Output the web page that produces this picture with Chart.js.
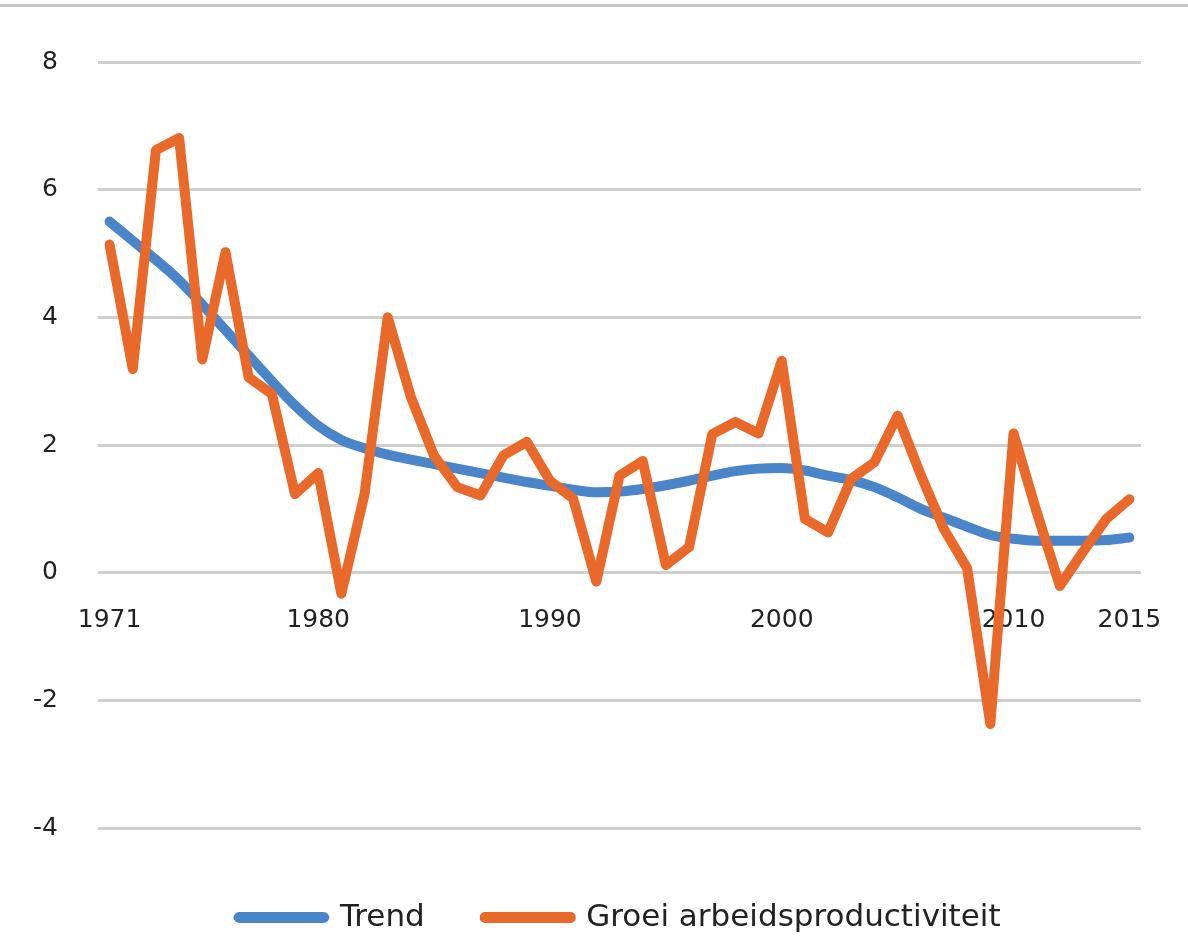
<!DOCTYPE html>
<html>
<head>
<meta charset="utf-8">
<script src="https://cdn.jsdelivr.net/npm/chart.js@4/dist/chart.umd.min.js"></script>
<style>
  html, body { margin: 0; padding: 0; background: #fff; }
  #topline { position: absolute; left: 0; top: 4px; width: 1188px; height: 3px; background: #c4c4c4; }
  #wrap { position: relative; width: 1188px; height: 943px; }
</style>
</head>
<body>
<div id="wrap">
  <div id="topline"></div>
  <canvas id="chart"></canvas>
</div>
<script>
var years = [1971, 1972, 1973, 1974, 1975, 1976, 1977, 1978, 1979, 1980,
  1981, 1982, 1983, 1984, 1985, 1986, 1987, 1988, 1989, 1990,
  1991, 1992, 1993, 1994, 1995, 1996, 1997, 1998, 1999, 2000,
  2001, 2002, 2003, 2004, 2005, 2006, 2007, 2008, 2009, 2010,
  2011, 2012, 2013, 2014, 2015];

var shownYears = [1971, 1980, 1990, 2000, 2010, 2015];

var trend = [5.5, 5.2, 4.9, 4.58, 4.2, 3.8, 3.4, 3.0, 2.62, 2.3,
  2.08, 1.95, 1.85, 1.77, 1.7, 1.63, 1.56, 1.49, 1.42, 1.36,
  1.3, 1.26, 1.27, 1.31, 1.37, 1.44, 1.52, 1.59, 1.63, 1.64,
  1.6, 1.52, 1.45, 1.34, 1.18, 1.0, 0.86, 0.72, 0.59, 0.53,
  0.5, 0.5, 0.5, 0.51, 0.55];

var groei = [5.14, 3.19, 6.62, 6.81, 3.34, 5.02, 3.06, 2.8, 1.23, 1.56,
  -0.33, 1.23, 4.0, 2.75, 1.83, 1.34, 1.21, 1.84, 2.05, 1.44,
  1.16, -0.14, 1.52, 1.75, 0.12, 0.4, 2.17, 2.36, 2.18, 3.32,
  0.84, 0.63, 1.47, 1.73, 2.46, 1.53, 0.68, 0.07, -2.37, 2.18,
  0.95, -0.21, 0.33, 0.84, 1.15];

var blue = '#4a85c9';
var orange = '#e8692a';

new Chart(document.getElementById('chart'), {
  type: 'line',
  data: {
    labels: years,
    datasets: [{
      label: 'Trend',
      data: trend,
      borderColor: blue,
      backgroundColor: blue,
      borderWidth: 10,
      pointRadius: 0,
      tension: 0.4,
      cubicInterpolationMode: 'monotone',
      borderCapStyle: 'round',
      order: 1
    }, {
      label: 'Groei arbeidsproductiviteit',
      data: groei,
      borderColor: orange,
      backgroundColor: orange,
      borderWidth: 10,
      pointRadius: 0,
      tension: 0,
      borderJoinStyle: 'round',
      borderCapStyle: 'round',
      order: 0
    }]
  },
  options: {
    responsive: true,
    maintainAspectRatio: false,
    animation: false,
    layout: { padding: { top: 62, right: 47, left: 0, bottom: 0 } },
    plugins: {
      tooltip: { enabled: false },
      legend: {
        position: 'bottom',
        fullSize: false,
        labels: {
          sort: function (a, b) { return a.datasetIndex - b.datasetIndex; },
          boxWidth: 86,
          boxHeight: 1,
          useBorderRadius: true,
          borderRadius: 1,
          padding: 60,
          color: '#222',
          font: { family: 'DejaVu Sans', size: 31 }
        }
      }
    },
    scales: {
      x: {
        position: { y: 0 },
        offset: true,
        // tick marks are hidden, their length only pushes the labels down
        grid: { display: false, drawTicks: true, tickLength: 33 },
        border: { display: false },
        ticks: {
          autoSkip: false,
          maxRotation: 0,
          padding: 0,
          color: '#222',
          font: { family: 'DejaVu Sans', size: 25 },
          callback: function (val, i) {
            var y = years[i];
            return shownYears.indexOf(y) >= 0 ? String(y) : '';
          }
        }
      },
      // empty axis, only keeps room between plot and legend
      spacer: {
        type: 'category',
        labels: [''],
        position: 'bottom',
        grid: { display: false },
        border: { display: false },
        ticks: { display: false },
        afterFit: function (s) { s.height = 14; }
      },
      y: {
        min: -4,
        max: 8,
        afterFit: function (s) { s.width = 98; },
        ticks: {
          stepSize: 2,
          padding: 40,
          color: '#222',
          font: { family: 'DejaVu Sans', size: 25 }
        },
        grid: { color: '#cfcfcf', lineWidth: 3, drawTicks: false },
        border: { display: false }
      }
    }
  }
});
</script>
</body>
</html>
